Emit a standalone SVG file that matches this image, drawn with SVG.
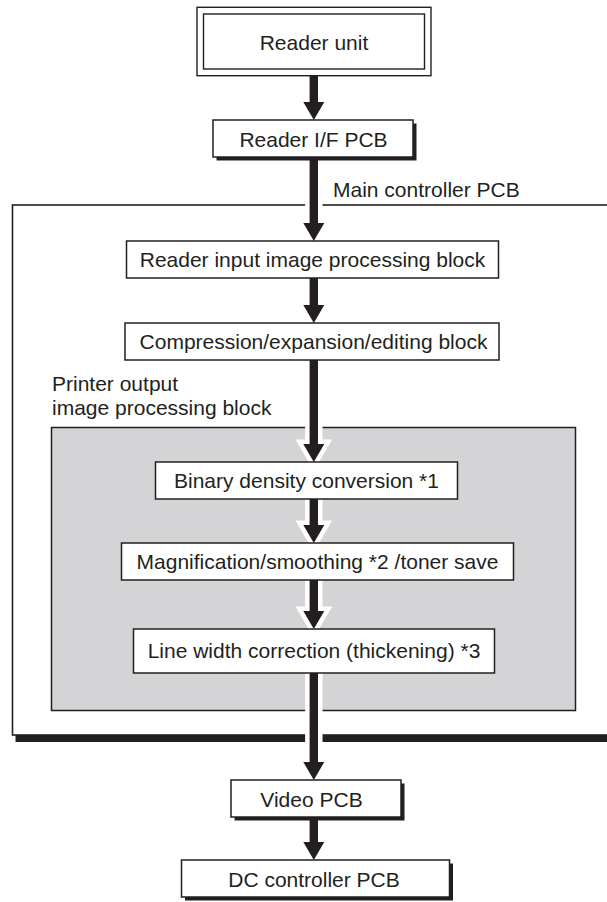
<svg xmlns="http://www.w3.org/2000/svg" width="607" height="902" viewBox="0 0 607 902">
<style>
text{font-family:"Liberation Sans",Arial,Helvetica,sans-serif;font-size:21px;fill:#231f20}
.c{text-anchor:middle}
.box{fill:#fff;stroke:#231f20;stroke-width:1.5}
.sh{fill:#231f20}
.halo{fill:#fff;stroke:#fff;stroke-width:9;stroke-linejoin:miter}
.arr{fill:#231f20}
</style>
<rect width="607" height="902" fill="#fff"/>
<g id="main-controller">
<rect x="15.5" y="211" width="600" height="531" class="sh"/>
<rect x="12.5" y="205" width="600" height="530" fill="#fff" stroke="#231f20" stroke-width="1.6"/>
<text x="333" y="197">Main controller PCB</text>
</g>
<g id="printer-output">
<rect x="51.5" y="427.5" width="524" height="283" fill="#d4d4d6" stroke="#231f20" stroke-width="1.5"/>
<text x="52" y="391">Printer output</text>
<text x="52" y="415">image processing block</text>
</g>
<g id="connectors">
<path class="halo" d="M309.6,157H318V223H324.3L313.8,241L303.3,223H309.6Z"/>
<path class="halo" d="M309.6,360H318V444H324.3L313.8,462L303.3,444H309.6Z"/>
<path class="halo" d="M309.6,499H318V525H324.3L313.8,543L303.3,525H309.6Z"/>
<path class="halo" d="M309.6,580H318V611H324.3L313.8,629L303.3,611H309.6Z"/>
<path class="halo" d="M309.6,673H318V762H324.3L313.8,780L303.3,762H309.6Z"/>
<path class="arr" d="M309.6,76H318V102H324.3L313.8,120L303.3,102H309.6Z"/>
<path class="arr" d="M309.6,157H318V223H324.3L313.8,241L303.3,223H309.6Z"/>
<path class="arr" d="M309.6,278H318V305H324.3L313.8,323L303.3,305H309.6Z"/>
<path class="arr" d="M309.6,360H318V444H324.3L313.8,462L303.3,444H309.6Z"/>
<path class="arr" d="M309.6,499H318V525H324.3L313.8,543L303.3,525H309.6Z"/>
<path class="arr" d="M309.6,580H318V611H324.3L313.8,629L303.3,611H309.6Z"/>
<path class="arr" d="M309.6,673H318V762H324.3L313.8,780L303.3,762H309.6Z"/>
<path class="arr" d="M309.6,817H318V842H324.3L313.8,860L303.3,842H309.6Z"/>
</g>
<g id="reader-unit">
<rect x="197" y="7.3" width="234" height="68.4" fill="#fff" stroke="#231f20" stroke-width="1.4"/>
<rect x="203.5" y="14" width="221" height="55" fill="none" stroke="#231f20" stroke-width="1.4"/>
<text x="314" y="50" class="c">Reader unit</text>
</g>
<g id="reader-if-pcb">
<rect x="216.5" y="123.5" width="200" height="37" class="sh"/>
<rect x="213" y="120" width="200" height="37" class="box"/>
<text x="313.5" y="147" class="c">Reader I/F PCB</text>
</g>
<g id="reader-input">
<rect x="126.5" y="241" width="372" height="37" class="box"/>
<text x="312.5" y="267" class="c">Reader input image processing block</text>
</g>
<g id="compression">
<rect x="125" y="323" width="374" height="37" class="box"/>
<text x="313.5" y="349" class="c">Compression/expansion/editing block</text>
</g>
<g id="binary-density">
<rect x="155.5" y="462" width="302" height="37" class="box"/>
<text x="306.5" y="488" class="c">Binary density conversion *1</text>
</g>
<g id="magnification">
<rect x="121.5" y="543" width="392" height="37" class="box"/>
<text x="317.5" y="569" class="c">Magnification/smoothing *2 /toner save</text>
</g>
<g id="line-width">
<rect x="133.5" y="629" width="361" height="44" class="box"/>
<text x="314" y="658" class="c">Line width correction (thickening) *3</text>
</g>
<g id="video-pcb">
<rect x="234.5" y="783.5" width="170" height="37" class="sh"/>
<rect x="231" y="780" width="170" height="37" class="box"/>
<text x="311.5" y="807" class="c">Video PCB</text>
</g>
<g id="dc-controller">
<rect x="185" y="863.5" width="268" height="37" class="sh"/>
<rect x="181.5" y="860" width="268" height="37" class="box"/>
<text x="314" y="887" class="c">DC controller PCB</text>
</g>
</svg>
